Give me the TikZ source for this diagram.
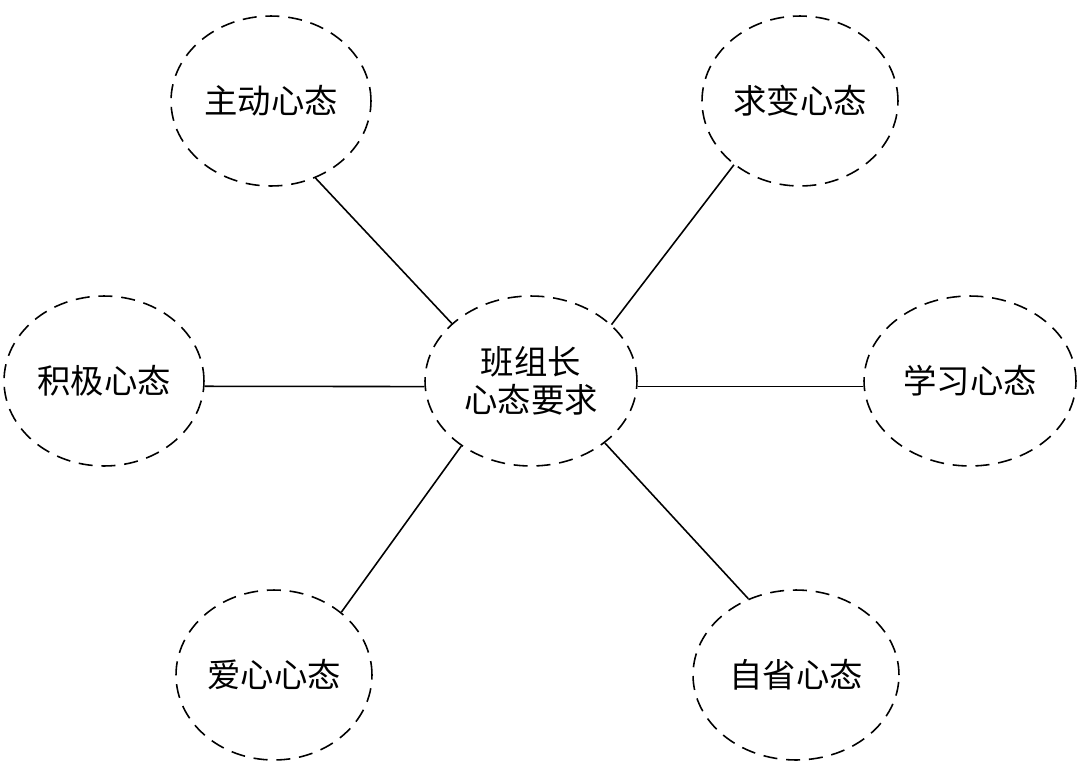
\documentclass[tikz,border=0pt]{standalone}
\usepackage{fontspec}
\newfontfamily\cjk{Noto Sans CJK SC}
\usetikzlibrary{positioning, shapes.geometric}

\begin{document}
\begin{tikzpicture}[x=0.02cm, y=-0.02cm,
      mood/.style={draw, ellipse, dash pattern=on 8pt off 5pt, line width=0.9pt, inner sep=0pt,
                   minimum width=4cm, minimum height=3.4cm, align=center},
      link/.style={line width=0.9pt}]
    \useasboundingbox (0,0) rectangle (1080,775);
    \begin{scope}[font=\cjk\fontsize{19}{22}\selectfont]
    % --- centre ---
    \node[mood, minimum width=4.24cm] (core) at (531,381) {班组长\\心态要求};
    % --- surrounding moods ---
    \node[mood] (zhudong) at (271,101) {主动心态};
    \node[mood, minimum width=3.92cm] (qiubian) at (800,101) {求变心态};
    \node[mood] (jiji) at (104,381) {积极心态};
    \node[mood, minimum width=4.24cm] (xuexi) at (970,381) {学习心态};
    \node[mood, minimum width=3.92cm] (aixin) at (274,675) {爱心心态};
    \node[mood, minimum width=4.12cm] (zixing) at (796,675) {自省心态};
    \end{scope}
    % --- spokes ---
    \foreach \a/\m/\b in {144/zhudong/300, 35/qiubian/224, 183/jiji/357,
                          357/xuexi/183, 223/aixin/43, 320/zixing/122}
      \draw[link] (core.\a) -- (\m.\b);
  \end{tikzpicture}
\end{document}
